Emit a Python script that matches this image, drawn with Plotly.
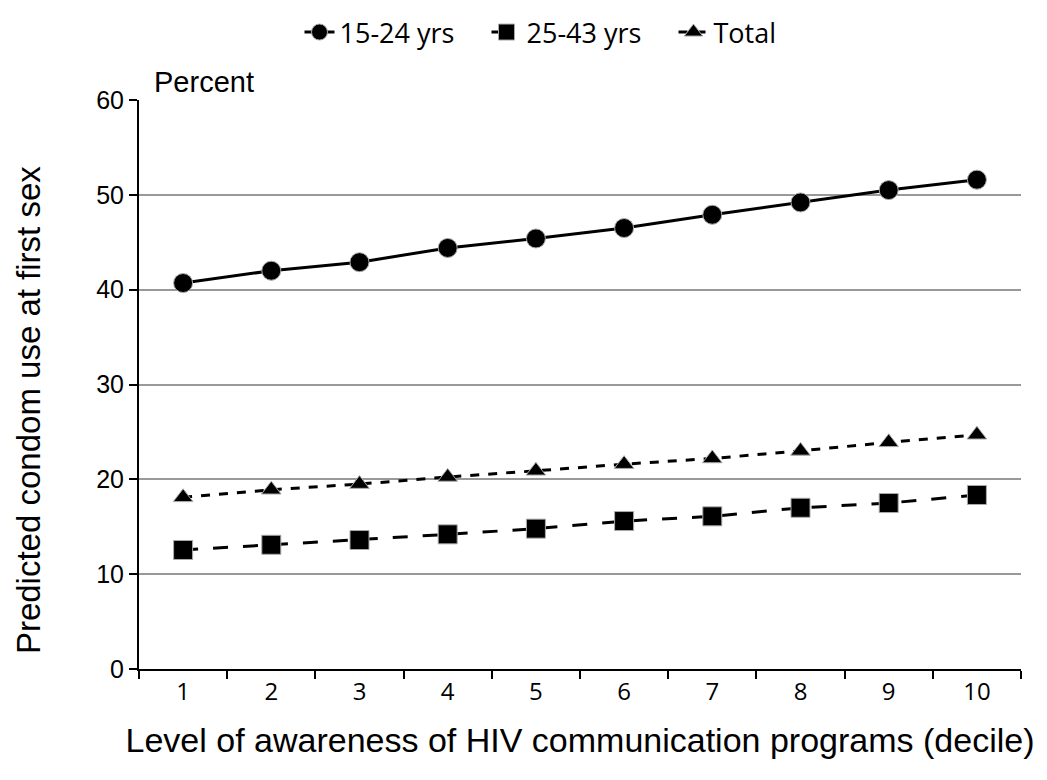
import plotly.graph_objects as go

categories = ["1", "2", "3", "4", "5", "6", "7", "8", "9", "10"]
young = [40.7, 42.0, 42.9, 44.4, 45.4, 46.5, 47.9, 49.2, 50.5, 51.6]
older = [12.55, 13.1, 13.6, 14.2, 14.8, 15.6, 16.1, 17.0, 17.5, 18.35]
total = [18.1, 18.9, 19.5, 20.25, 20.9, 21.6, 22.2, 23.0, 23.9, 24.7]
y_ticks = [0, 10, 20, 30, 40, 50, 60]

fig = go.Figure()
fig.add_trace(go.Scatter(x=categories, y=young, name="15-24 yrs", mode="lines+markers",
                         line=dict(color="black", width=3, dash="solid"),
                         marker=dict(symbol="circle", size=19, color="black",
                                     line=dict(color="#aaaaaa", width=1))))
fig.add_trace(go.Scatter(x=categories, y=older, name="25-43 yrs", mode="lines+markers",
                         line=dict(color="black", width=3, dash="longdash"),
                         marker=dict(symbol="square", size=19, color="black",
                                     line=dict(color="#aaaaaa", width=1))))
fig.add_trace(go.Scatter(x=categories, y=total, name="Total", mode="lines+markers",
                         line=dict(color="black", width=3, dash="dash"),
                         marker=dict(symbol="triangle-up", size=17, color="black",
                                     line=dict(color="#aaaaaa", width=1))))

fig.update_layout(
    width=1047, height=780,
    margin=dict(l=131, r=34, t=92, b=119),
    paper_bgcolor="white", plot_bgcolor="white",
    font=dict(family="Liberation Sans, Arial", color="black"),
    legend=dict(orientation="h", x=0.5, xanchor="center", y=1.0, yanchor="top",
                yref="container", font=dict(family="Open Sans", size=27),
                tracegroupgap=0, entrywidth=142, entrywidthmode="pixels"),
    showlegend=True,
)

fig.update_xaxes(type="category", tickson="boundaries", range=[-0.5, 9.5],
                 showline=True, linecolor="black", linewidth=2,
                 ticks="outside", ticklen=8, tickwidth=2, tickcolor="black",
                 showgrid=False, tickfont=dict(family="Open Sans", size=24),
                 title=dict(text="Level of awareness of HIV communication programs (decile)",
                            font=dict(size=34), standoff=22))
fig.update_yaxes(range=[0, 60], tickvals=y_ticks,
                 showline=True, linecolor="black", linewidth=2,
                 ticks="outside", ticklen=8, tickwidth=2, tickcolor="black",
                 showgrid=True, gridcolor="#999999", gridwidth=2, zeroline=False,
                 tickfont=dict(size=25))

fig.add_annotation(text="Predicted condom use at first sex", textangle=-90,
                   xref="paper", yref="paper", x=0, y=0.455, xshift=-111,
                   xanchor="center", yanchor="middle", showarrow=False,
                   font=dict(size=33))

fig.add_annotation(text="Percent", xref="paper", yref="paper", x=0.015, y=1.0,
                   xanchor="left", yanchor="bottom", showarrow=False,
                   font=dict(size=29), yshift=0)

fig.write_html("out.html")
